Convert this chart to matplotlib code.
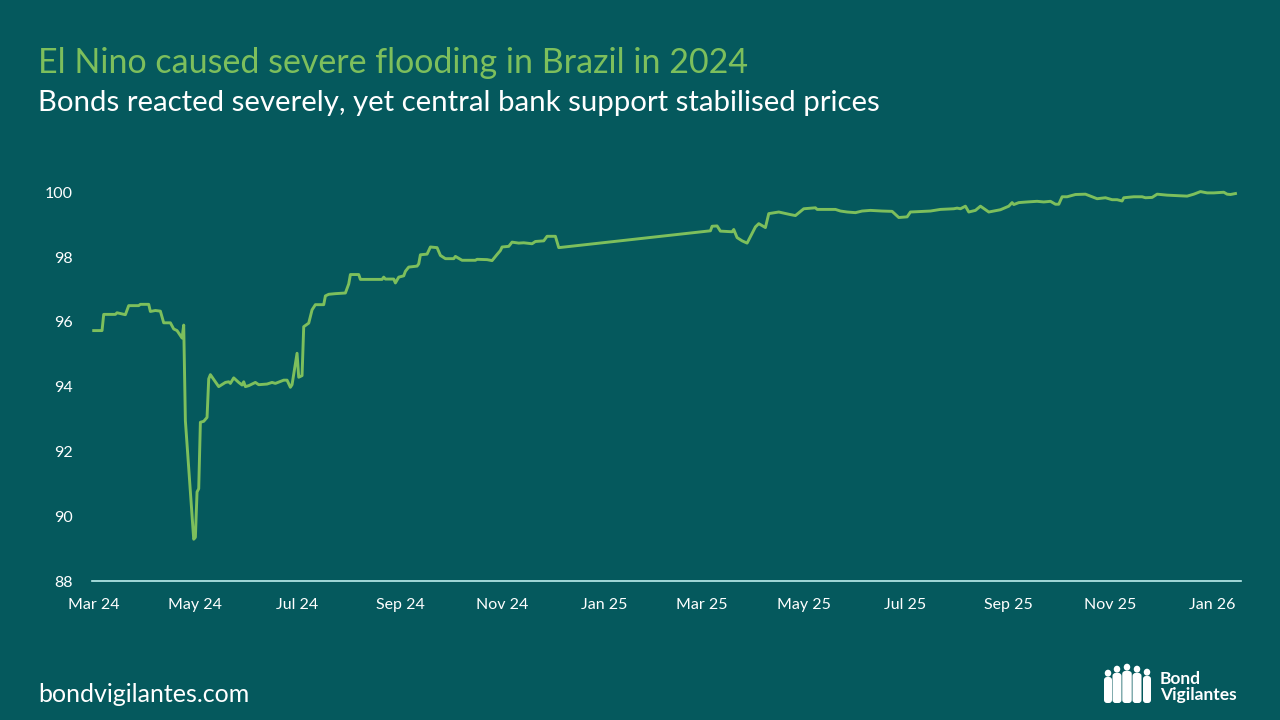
import matplotlib
matplotlib.use('Agg')
import matplotlib.pyplot as plt
import matplotlib.dates as mdates
import matplotlib.patches as patches
import pandas as pd

BG = '#05595d'
GREEN = '#7dbf5c'
AXIS = '#bdeeee'

# bond price
dates = [
    '2024-03-01', '2024-03-06', '2024-03-07', '2024-03-14', '2024-03-15', '2024-03-20',
    '2024-03-22', '2024-03-28', '2024-03-29', '2024-04-03', '2024-04-04', '2024-04-07',
    '2024-04-10', '2024-04-12', '2024-04-16', '2024-04-18', '2024-04-20', '2024-04-23',
    '2024-04-24', '2024-04-25', '2024-04-30', '2024-05-01', '2024-05-02', '2024-05-03',
    '2024-05-04', '2024-05-06', '2024-05-08', '2024-05-09', '2024-05-10', '2024-05-15',
    '2024-05-19', '2024-05-21', '2024-05-22', '2024-05-24', '2024-05-27', '2024-05-29',
    '2024-05-30', '2024-05-31', '2024-06-02', '2024-06-06', '2024-06-08', '2024-06-13',
    '2024-06-16', '2024-06-18', '2024-06-23', '2024-06-25', '2024-06-27', '2024-06-28',
    '2024-07-01', '2024-07-02', '2024-07-04', '2024-07-05', '2024-07-08', '2024-07-10',
    '2024-07-12', '2024-07-17', '2024-07-18', '2024-07-20', '2024-07-24', '2024-07-30',
    '2024-08-01', '2024-08-02', '2024-08-07', '2024-08-08', '2024-08-21', '2024-08-22',
    '2024-08-23', '2024-08-28', '2024-08-29', '2024-08-31', '2024-09-03', '2024-09-04',
    '2024-09-06', '2024-09-11', '2024-09-12', '2024-09-13', '2024-09-17', '2024-09-19',
    '2024-09-23', '2024-09-25', '2024-09-28', '2024-10-03', '2024-10-04', '2024-10-08',
    '2024-10-16', '2024-10-17', '2024-10-23', '2024-10-26', '2024-10-29', '2024-10-31',
    '2024-11-01', '2024-11-05', '2024-11-07', '2024-11-11', '2024-11-14', '2024-11-19',
    '2024-11-21', '2024-11-26', '2024-11-28', '2024-12-03', '2024-12-05',
    '2025-03-06', '2025-03-07', '2025-03-10', '2025-03-12', '2025-03-19', '2025-03-20',
    '2025-03-22', '2025-03-25', '2025-03-28', '2025-04-02', '2025-04-04', '2025-04-08',
    '2025-04-10', '2025-04-16', '2025-04-23', '2025-04-26', '2025-05-01', '2025-05-08',
    '2025-05-09', '2025-05-20', '2025-05-23', '2025-05-27', '2025-06-01', '2025-06-05',
    '2025-06-10', '2025-06-17', '2025-06-23', '2025-06-27', '2025-07-02', '2025-07-04',
    '2025-07-12', '2025-07-16', '2025-07-22', '2025-07-30', '2025-08-01', '2025-08-03',
    '2025-08-06', '2025-08-08', '2025-08-12', '2025-08-15', '2025-08-20', '2025-08-27',
    '2025-09-01', '2025-09-03', '2025-09-04', '2025-09-07', '2025-09-12', '2025-09-18',
    '2025-09-22', '2025-09-26', '2025-09-29', '2025-10-01', '2025-10-03', '2025-10-06',
    '2025-10-11', '2025-10-17', '2025-10-24', '2025-10-29', '2025-11-02', '2025-11-05',
    '2025-11-08', '2025-11-09', '2025-11-15', '2025-11-20', '2025-11-22', '2025-11-26',
    '2025-11-29', '2025-12-05', '2025-12-17', '2025-12-21', '2025-12-25', '2025-12-29',
    '2026-01-02', '2026-01-08', '2026-01-10', '2026-01-12', '2026-01-15',
]
prices = [
    95.73, 95.73, 96.23, 96.23, 96.28, 96.22,
    96.50, 96.50, 96.54, 96.54, 96.32, 96.35,
    96.33, 95.97, 95.97, 95.78, 95.73, 95.50,
    95.90, 92.95, 89.29, 89.35, 90.75, 90.85,
    92.90, 92.93, 93.05, 94.24, 94.37, 94.00,
    94.13, 94.15, 94.10, 94.27, 94.13, 94.05,
    94.15, 94.00, 94.03, 94.13, 94.06, 94.08,
    94.13, 94.10, 94.20, 94.20, 93.98, 94.06,
    95.03, 94.29, 94.34, 95.85, 95.96, 96.37,
    96.53, 96.53, 96.80, 96.85, 96.87, 96.89,
    97.17, 97.46, 97.46, 97.31, 97.31, 97.38,
    97.32, 97.32, 97.20, 97.38, 97.42, 97.56,
    97.69, 97.72, 97.79, 98.07, 98.09, 98.31,
    98.29, 98.05, 97.95, 97.95, 98.02, 97.90,
    97.90, 97.93, 97.92, 97.89, 98.08, 98.20,
    98.31, 98.33, 98.46, 98.43, 98.44, 98.41,
    98.48, 98.50, 98.64, 98.64, 98.29,
    98.81, 98.95, 98.96, 98.80, 98.78, 98.85,
    98.60, 98.50, 98.43, 98.93, 99.03, 98.91,
    99.34, 99.39, 99.31, 99.28, 99.49, 99.52,
    99.47, 99.47, 99.42, 99.39, 99.37, 99.42,
    99.44, 99.42, 99.41, 99.22, 99.24, 99.39,
    99.41, 99.42, 99.47, 99.49, 99.51, 99.49,
    99.57, 99.39, 99.44, 99.57, 99.39, 99.46,
    99.57, 99.68, 99.62, 99.68, 99.70, 99.72,
    99.70, 99.72, 99.63, 99.63, 99.86, 99.86,
    99.93, 99.94, 99.80, 99.83, 99.77, 99.77,
    99.73, 99.83, 99.86, 99.86, 99.83, 99.84,
    99.94, 99.91, 99.88, 99.94, 100.02, 99.98,
    99.98, 100.00, 99.94, 99.93, 99.96,
]

yticks = [88, 90, 92, 94, 96, 98, 100]
title = 'El Nino caused severe flooding in Brazil in 2024'
subtitle = 'Bonds reacted severely, yet central bank support stabilised prices'

plt.rcParams['font.family'] = ['Lato', 'DejaVu Sans']

fig = plt.figure(figsize=(12.8, 7.2), dpi=100, facecolor=BG)
ax = fig.add_axes([0.0721, 0.193, 0.8974, 0.585])
ax.set_facecolor(BG)

x = pd.to_datetime(dates)
ax.plot(x, prices, color=GREEN, lw=2.1, solid_joinstyle='round')

start = mdates.date2num(pd.Timestamp('2024-03-01'))
ax.set_xlim(start - 0.85, start + 688.3)
ax.set_ylim(88, 101)
ax.set_yticks(yticks)
ax.set_yticklabels([str(t) for t in yticks])

ax.xaxis.set_major_locator(mdates.MonthLocator(bymonth=[1, 3, 5, 7, 9, 11]))
ax.xaxis.set_major_formatter(mdates.DateFormatter('%b %y'))

for s in ['top', 'right', 'left']:
    ax.spines[s].set_visible(False)
ax.spines['bottom'].set_color(AXIS)
ax.spines['bottom'].set_linewidth(1.2)
ax.tick_params(axis='both', length=0, colors='white', labelsize=11.5)
ax.tick_params(axis='y', pad=14)
ax.tick_params(axis='x', pad=12)

fig.text(0.0297, 0.912, title, color=GREEN, fontsize=24.5, va='center', ha='left')
fig.text(0.0297, 0.857, subtitle, color='white', fontsize=21.2, va='center', ha='left')
fig.text(0.0297, 0.036, 'bondvigilantes.com', color='white', fontsize=18, va='center', ha='left')

# logo: small crowd of people, drawn in a pixel-scaled axes
logo = fig.add_axes([1100 / 1280, 14 / 720, 56 / 1280, 44 / 720])
logo.set_xlim(1100, 1156)
logo.set_ylim(706, 662)
logo.axis('off')
people = [(1108, 670, 8), (1117, 666, 9), (1127, 664, 9.5), (1137, 666, 9), (1147, 669, 8)]
for px, top, w in people:
    logo.add_patch(patches.Ellipse((px, top + 3.2), 6.5, 7, color='white', lw=0))
    logo.add_patch(patches.FancyBboxPatch((px - w / 2, top + 7), w, 703 - top - 7,
                                          boxstyle='round,pad=0,rounding_size=3',
                                          color='white', lw=0))
fig.text(1160 / 1280, (720 - 679) / 720, 'Bond', color='white', fontsize=12.5,
         va='center', ha='left', fontweight='bold')
fig.text(1160 / 1280, (720 - 695) / 720, 'Vigilantes', color='white', fontsize=12.5,
         va='center', ha='left', fontweight='bold')

fig.savefig('out.png', dpi=100, facecolor=BG)
